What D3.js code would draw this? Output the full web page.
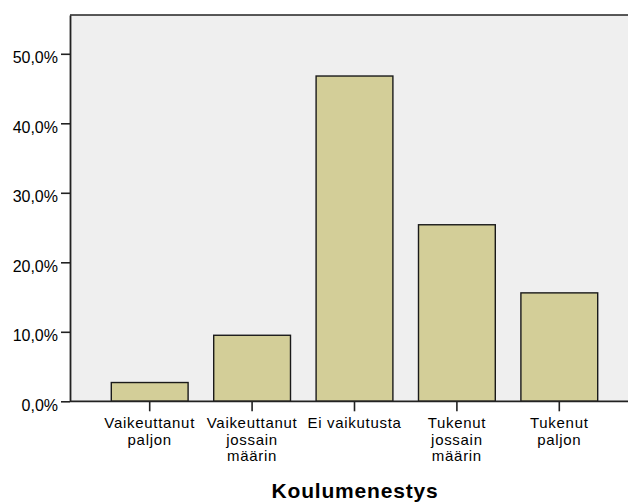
<!DOCTYPE html>
<html><head><meta charset="utf-8">
<script src="https://cdn.jsdelivr.net/npm/d3@7"></script>
<style>body{margin:0;background:#fff}svg{display:block;font-family:Arial,"Liberation Sans",sans-serif}</style>
</head><body>
<svg id="c" width="628" height="502"></svg>
<script>
const categories = ["Vaikeuttanut paljon","Vaikeuttanut jossain määrin","Ei vaikutusta","Tukenut jossain määrin","Tukenut paljon"];
const categoryLines = [["Vaikeuttanut","paljon"],["Vaikeuttanut","jossain","määrin"],["Ei vaikutusta"],["Tukenut","jossain","määrin"],["Tukenut","paljon"]];
const values = [2.7, 9.5, 46.8, 25.4, 15.6];
const yTicks = [0,10,20,30,40,50];
const xTitle = "Koulumenestys";

const svg = d3.select("#c");
const pLeft = 70, pTop = 15, pBottom = 401.3, pRight = 640;
const x = d3.scaleBand().domain(categories).range([98.5, 610.5]).paddingInner(0.25).paddingOuter(0.125);
const y = d3.scaleLinear().domain([0, 55.58]).range([pBottom, pTop]);

svg.append("rect").attr("x", pLeft).attr("y", pTop).attr("width", pRight-pLeft).attr("height", pBottom-pTop).attr("fill", "#efefef");

svg.selectAll("rect.bar").data(values).enter().append("rect").attr("class","bar")
  .attr("x", (d,i)=>x(categories[i]))
  .attr("y", d=>y(d))
  .attr("width", x.bandwidth())
  .attr("height", d=>pBottom - y(d))
  .attr("fill", "#d3ce98").attr("stroke", "#1a1a1a").attr("stroke-width", 1.4);

svg.append("line").attr("x1", pLeft).attr("x2", pRight).attr("y1", pTop).attr("y2", pTop).attr("stroke","#222").attr("stroke-width",1.6);

const fmt = d => d3.format(".1f")(d).replace(".", ",") + "%";
const yAxis = d3.axisLeft(y).tickValues(yTicks).tickFormat(fmt).tickSize(9).tickSizeOuter(0).tickPadding(3);
const gy = svg.append("g").attr("transform", `translate(${pLeft},0)`).call(yAxis);
gy.select(".domain").attr("stroke","#222").attr("stroke-width",1.8);
gy.selectAll(".tick line").attr("stroke","#222").attr("stroke-width",1.6);
gy.selectAll(".tick text").attr("font-size","16px").attr("fill","#000").attr("dy","0.55em").attr("font-family","Arial, 'Liberation Sans', sans-serif");

const xAxis = d3.axisBottom(x).tickSize(10).tickSizeOuter(0).tickFormat("");
const gx = svg.append("g").attr("transform", `translate(0,${pBottom})`).call(xAxis);
gx.select(".domain").remove();
gx.selectAll(".tick line").attr("stroke","#222").attr("stroke-width",1.6);
svg.append("line").attr("x1", pLeft).attr("x2", pRight).attr("y1", pBottom).attr("y2", pBottom).attr("stroke","#222").attr("stroke-width",1.8);

const lbl = svg.append("g").attr("font-size","15px").attr("text-anchor","middle").attr("letter-spacing","0.7px");
categories.forEach((c,i)=>{
  const t = lbl.append("text").attr("x", x(c)+x.bandwidth()/2).attr("y", 428);
  categoryLines[i].forEach((s,j)=>{
    t.append("tspan").attr("x", x(c)+x.bandwidth()/2).attr("y", 428 + j*16.5).text(s);
  });
});

svg.append("text").attr("x", 355).attr("y", 498).attr("text-anchor","middle")
  .attr("font-size","21px").attr("font-weight","bold").attr("letter-spacing","0.8px").text(xTitle);
</script>
</body></html>
